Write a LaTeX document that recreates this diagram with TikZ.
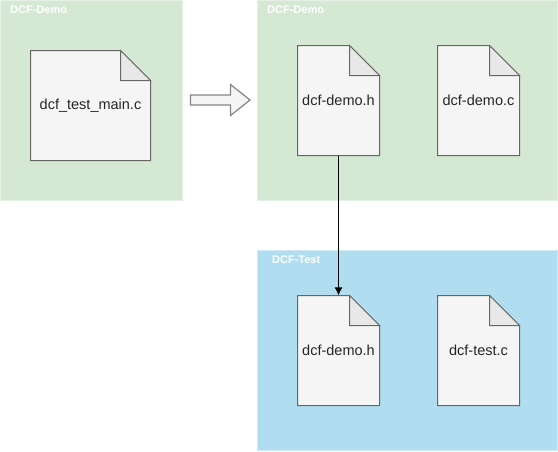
\documentclass[tikz,border=0pt]{standalone}
\usepackage{fontspec}
\setmainfont{Liberation Sans}
\usetikzlibrary{positioning,arrows.meta}
\tikzset{>={Latex[length=8pt,width=8pt]}}
\definecolor{demogreen}{HTML}{D5E8D4}
\definecolor{testblue}{HTML}{B1DDF0}
\definecolor{docfill}{HTML}{F5F5F5}
\definecolor{foldfill}{HTML}{E8E8E8}
\definecolor{docline}{HTML}{666666}
\tikzset{
    group/.style={inner sep=0pt, anchor=north west, line width=0.6pt},
    grouplabel/.style={text=white, font=\bfseries\fontsize{11}{13}\selectfont, anchor=west, inner sep=0pt},
    docbody/.style={fill=docfill, draw=docline, line width=1pt, line join=miter},
    docfold/.style={fill=foldfill, draw=docline, line width=1pt},
    doctext/.style={font=\fontsize{14.5}{17}\selectfont, text=black!85, minimum height=110pt, inner sep=0pt},
    bigarrow/.style={fill=docfill, draw=docline!80, line width=1.2pt}
}
% \docfile{name}{left}{right}{top}{text}
\newcommand{\docfile}[5]{
    \draw[docbody] (#2,#4) -- (#3-30,#4) -- (#3,#4+30) -- (#3,#4+110) -- (#2,#4+110) -- cycle;
    \draw[docfold] (#3-30,#4) -- (#3-30,#4+30) -- (#3,#4+30) -- cycle;
    \node[doctext, minimum width=#3pt-#2pt] (#1) at ({(#2+#3)/2},#4+55) {#5};
}
\begin{document}
\begin{tikzpicture}[x=1pt,y=-1pt]
    \useasboundingbox (0,0) rectangle (558,451);

    % groups
    \node[group, fill=demogreen, draw=demogreen!60!white, minimum width=182pt, minimum height=200pt] (left) at (0,0) {};
    \node[group, fill=demogreen, draw=demogreen!60!white, minimum width=300pt, minimum height=200pt] (right) at (257,0) {};
    \node[group, fill=testblue, draw=testblue!60!white, minimum width=300pt, minimum height=200pt] (test) at (257,250) {};
    \node[grouplabel] (leftlabel) at (10,10) {DCF-Demo};
    \node[grouplabel] (rightlabel) at (267,10) {DCF-Demo};
    \node[grouplabel] (testlabel) at (272,260) {DCF-Test};

    % files
    \docfile{main}{30.5}{150.5}{50.5}{dcf\_test\_main.c}
    \docfile{demoh}{297.5}{379.5}{45.5}{dcf-demo.h}
    \docfile{democ}{437.5}{519.5}{45.5}{dcf-demo.c}
    \docfile{testh}{297.5}{379.5}{295.5}{dcf-demo.h}
    \docfile{testc}{437.5}{519.5}{295.5}{dcf-test.c}

    \draw[bigarrow] (190.5,95) -- (230.5,95) -- (230.5,84.5) -- (250,100) -- (230.5,115.5) -- (230.5,105) -- (190.5,105) -- cycle;

    \draw[->, black, line width=1pt] (demoh) -- (testh);
\end{tikzpicture}
\end{document}
